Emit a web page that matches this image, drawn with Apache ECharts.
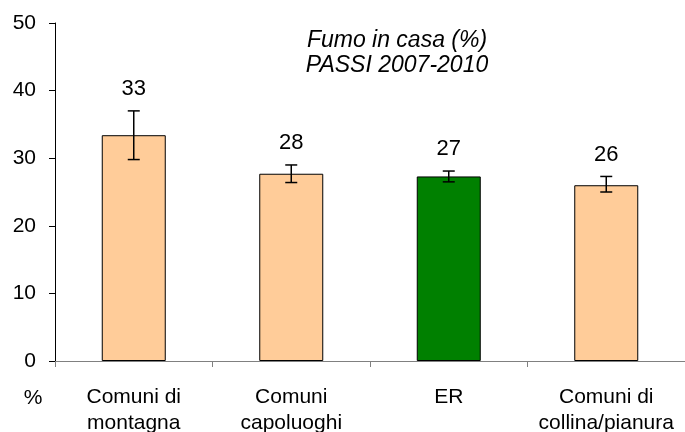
<!DOCTYPE html>
<html>
<head>
<meta charset="utf-8">
<script src="https://cdn.jsdelivr.net/npm/echarts@6/dist/echarts.min.js"></script>
<style>
  html, body { margin: 0; padding: 0; background: #fff; }
  #main { width: 685px; height: 432px; }
</style>
</head>
<body>
<div id="main"></div>
<script>
// dati
const categories = ["Comuni di\nmontagna", "Comuni\ncapoluoghi", "ER", "Comuni di\ncollina/pianura"];
const values = [33.4, 27.7, 27.3, 26.0];
const lower = [29.8, 26.4, 26.5, 25.0];
const upper = [37.0, 29.0, 28.1, 27.3];
const labels = ["33", "28", "27", "26"];
const barColors = ["#FFCC99", "#FFCC99", "#008000", "#FFCC99"];

const font = "Liberation Sans, Arial, sans-serif";
const myChart = echarts.init(document.getElementById("main"));

const option = {
  backgroundColor: "#fff",
  animation: false,
  textStyle: { fontFamily: font },
  grid: { left: 55, right: 0, top: 23, bottom: 71, outerBoundsMode: "none", containLabel: false },
  graphic: [
    {
      type: "text", x: 397, y: 41,
      style: { text: "Fumo in casa (%)", font: "italic 23px " + font, fill: "#000", align: "center", verticalAlign: "middle" }
    },
    {
      type: "text", x: 397, y: 66,
      style: { text: "PASSI 2007-2010", font: "italic 23px " + font, fill: "#000", align: "center", verticalAlign: "middle" }
    },
    {
      type: "text", x: 33, y: 398,
      style: { text: "%", font: "21px " + font, fill: "#000", align: "center", verticalAlign: "middle" }
    }
  ],
  xAxis: {
    type: "category",
    data: categories,
    axisLine: { lineStyle: { color: "#808080", width: 1 } },
    axisTick: { show: true, interval: 0, length: 6, lineStyle: { color: "#808080" } },
    axisLabel: { interval: 0, color: "#000", fontSize: 21, lineHeight: 26, margin: 23, fontFamily: font },
    splitLine: { show: false }
  },
  yAxis: {
    type: "value",
    min: 0,
    max: 50,
    interval: 10,
    axisLine: { show: true, lineStyle: { color: "#000", width: 1 } },
    axisTick: { show: true, length: 6, lineStyle: { color: "#000" } },
    axisLabel: { color: "#000", fontSize: 21, margin: 19, fontFamily: font },
    splitLine: { show: false }
  },
  series: [
    {
      type: "bar",
      barWidth: 64,
      data: values.map((v, i) => ({
        value: v,
        itemStyle: { color: barColors[i], borderColor: "#000", borderWidth: 1 }
      }))
    },
    {
      type: "custom",
      data: categories.map((c, i) => [i, lower[i], upper[i]]),
      renderItem: function (params, api) {
        const x = api.coord([api.value(0), 0])[0];
        const lo = api.coord([api.value(0), api.value(1)])[1];
        const hi = api.coord([api.value(0), api.value(2)])[1];
        const cap = 6;
        const st = { stroke: "#000", lineWidth: 1.5 };
        return {
          type: "group",
          children: [
            { type: "line", shape: { x1: x, y1: lo, x2: x, y2: hi }, style: st },
            { type: "line", shape: { x1: x - cap, y1: lo, x2: x + cap, y2: lo }, style: st },
            { type: "line", shape: { x1: x - cap, y1: hi, x2: x + cap, y2: hi }, style: st },
            {
              type: "text", x: x, y: hi - 22,
              style: { text: labels[params.dataIndex], font: "22px " + font, fill: "#000", align: "center", verticalAlign: "middle" }
            }
          ]
        };
      },
      z: 5
    }
  ]
};

option && myChart.setOption(option);
</script>
</body>
</html>
